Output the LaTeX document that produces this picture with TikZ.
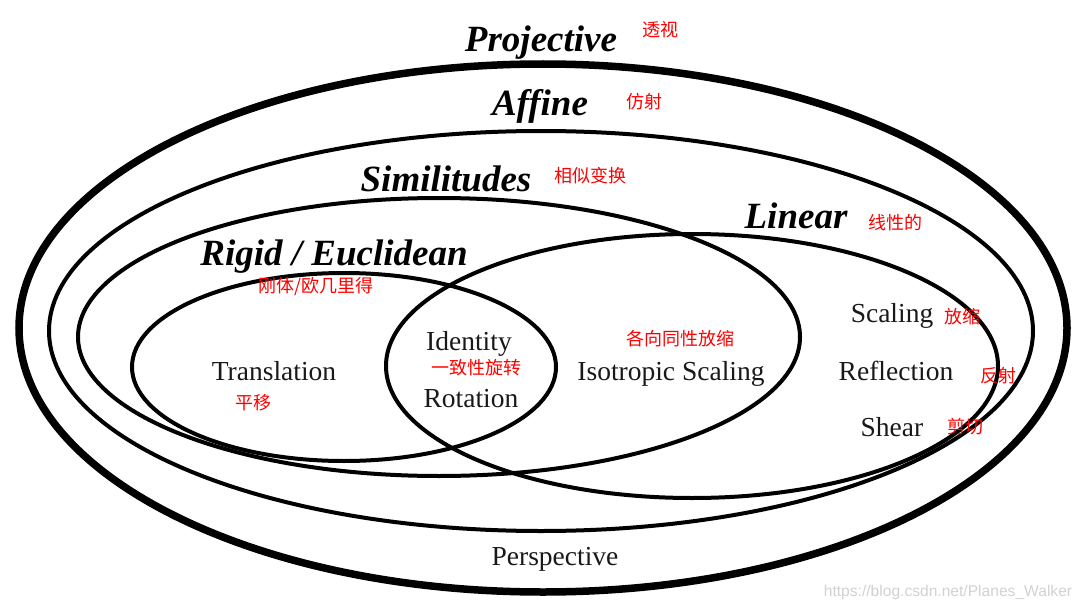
\documentclass[tikz,border=0pt]{standalone}
\usepackage{fontspec}
\setmainfont{Liberation Serif}
\newfontfamily\cjk{Noto Sans CJK SC}
\newfontfamily\wmfont{Liberation Sans}

\begin{document}
\begin{tikzpicture}[
    x=1pt, y=-1pt,
    set/.style={line width=4pt},
    outerset/.style={line width=7.5pt},
    title/.style={font=\fontsize{37}{40}\selectfont\bfseries\itshape, inner sep=0pt, anchor=base},
    item/.style={font=\fontsize{27.5}{30}\selectfont, text=black!90, inner sep=0pt, anchor=base},
    zh/.style={font=\cjk\fontsize{18}{20}\selectfont, text=red, inner sep=0pt}
]
    \useasboundingbox (0,0) rectangle (1085,610);

    % Sets
    \draw[outerset] (543,328) ellipse [x radius=524pt, y radius=264pt];
    \draw[set] (541,331) ellipse [x radius=492pt, y radius=200pt];
    \draw[set] (439,337) ellipse [x radius=361pt, y radius=139pt];
    \draw[set] (692,366) ellipse [x radius=306pt, y radius=132pt];
    \draw[set] (344,367) ellipse [x radius=212pt, y radius=94pt];

    % Titles
    \node[title] (projective) at (541,52) {Projective};
    \node[zh] (projectivezh) at (660,30) {透视};
    \node[title] (affine) at (540,116) {Affine};
    \node[zh] (affinezh) at (644,102) {仿射};
    \node[title] (similitudes) at (446,191) {Similitudes};
    \node[zh] (similitudeszh) at (590,176) {相似变换};
    \node[title] (linear) at (796,228) {Linear};
    \node[zh] (linearzh) at (895,223) {线性的};
    \node[title] (rigid) at (334,265) {Rigid / Euclidean};
    \node[zh] (rigidzh) at (316,287) {刚体/欧几里得};

    % Members
    \node[item] (translation) at (274,380) {Translation};
    \node[zh] (translationzh) at (253,403) {平移};
    \node[item] (identity) at (469,350) {Identity};
    \node[zh] (identityzh) at (476,368) {一致性旋转};
    \node[item] (rotation) at (471,407) {Rotation};
    \node[zh] (isotropiczh) at (680,339) {各向同性放缩};
    \node[item] (isotropic) at (671,380) {Isotropic Scaling};
    \node[item] (scaling) at (892,322) {Scaling};
    \node[zh] (scalingzh) at (962,317) {放缩};
    \node[item] (reflection) at (896,380) {Reflection};
    \node[zh] (reflectionzh) at (998,376) {反射};
    \node[item] (shear) at (892,436) {Shear};
    \node[zh] (shearzh) at (965,427) {剪切};
    \node[item] (perspective) at (555,565) {Perspective};

    % Watermark
    \node[font=\wmfont\fontsize{15.6}{17}\selectfont, text=black!18, inner sep=0pt] (mark) at (948,592) {https://blog.csdn.net/Planes\_Walker};
\end{tikzpicture}
\end{document}
